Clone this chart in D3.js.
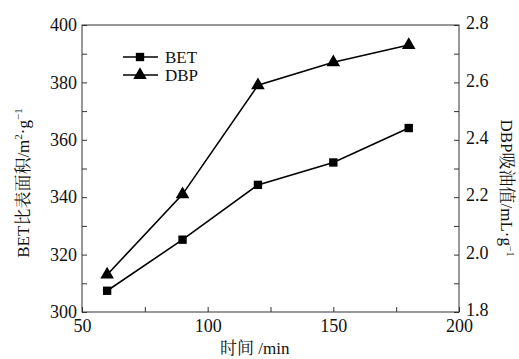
<!DOCTYPE html>
<html>
<head>
<meta charset="utf-8">
<script src="https://cdn.jsdelivr.net/npm/d3@7"></script>
<style>
  body { margin: 0; background: #fff; }
  svg text { font-family: "Liberation Serif", "Noto Serif CJK SC", "Noto Sans CJK SC", serif; fill: #111; }
</style>
</head>
<body>
<div id="chart"></div>
<script>
const times = [60, 90, 120, 150, 180];
const betValues = [307.4, 325.2, 344.3, 352.1, 364.1];
const dbpValues = [1.93, 2.21, 2.59, 2.67, 2.73];
const xTicks = [50, 100, 150, 200];
const leftTicks = [300, 320, 340, 360, 380, 400];
const rightTicks = [1.8, 2.0, 2.2, 2.4, 2.6, 2.8];

const width = 519;
const height = 359;
const margin = { top: 25, right: 60, bottom: 47, left: 82 };

const svg = d3.select('#chart')
  .append('svg')
  .attr('width', width)
  .attr('height', height);

const x = d3.scaleLinear().domain([50, 200]).range([margin.left, width - margin.right]);
const yLeft = d3.scaleLinear().domain([300, 400]).range([height - margin.bottom, margin.top]);
const yRight = d3.scaleLinear().domain([1.8, 2.8]).range([height - margin.bottom, margin.top]);

const tickLen = 5;
const serif = '"Liberation Serif", serif';

// frame
svg.append('rect')
  .attr('x', margin.left)
  .attr('y', margin.top)
  .attr('width', width - margin.left - margin.right)
  .attr('height', height - margin.top - margin.bottom)
  .attr('fill', 'none')
  .attr('stroke', '#333')
  .attr('stroke-width', 1);

// axes (ticks drawn inward)
const xAxis = d3.axisBottom(x)
  .tickValues(d3.range(50, 201, 25))
  .tickSizeInner(-tickLen).tickSizeOuter(0)
  .tickFormat((d) => (xTicks.includes(d) ? d : ''));
const gx = svg.append('g')
  .attr('transform', `translate(0,${height - margin.bottom})`)
  .call(xAxis);
gx.selectAll('text').attr('y', 7);

const leftAxis = d3.axisLeft(yLeft)
  .tickValues(d3.range(300, 401, 10))
  .tickSizeInner(-tickLen).tickSizeOuter(0)
  .tickFormat((d) => (leftTicks.includes(d) ? d : ''));
const gl = svg.append('g')
  .attr('transform', `translate(${margin.left},0)`)
  .call(leftAxis);
gl.selectAll('text').attr('x', -5);

const rightAxis = d3.axisRight(yRight)
  .tickValues(d3.range(18, 29, 1).map((d) => d / 10))
  .tickSizeInner(-tickLen).tickSizeOuter(0)
  .tickFormat((d) => (rightTicks.some((t) => Math.abs(t - d) < 1e-9) ? d3.format('.1f')(d) : ''));
const gr = svg.append('g')
  .attr('transform', `translate(${width - margin.right},0)`)
  .call(rightAxis);
gr.selectAll('text').attr('x', 7).attr('dy', '0.2em');

svg.selectAll('.domain').remove();
svg.selectAll('.tick line').attr('stroke', '#333');
svg.selectAll('.tick text')
  .style('font-family', serif)
  .style('font-size', '18px')
  .style('fill', '#111');

// lines
const betLine = d3.line().x((d, i) => x(times[i])).y((d) => yLeft(d));
const dbpLine = d3.line().x((d, i) => x(times[i])).y((d) => yRight(d));

svg.append('path')
  .datum(betValues)
  .attr('d', betLine)
  .attr('fill', 'none')
  .attr('stroke', '#000')
  .attr('stroke-width', 1.6);

svg.append('path')
  .datum(dbpValues)
  .attr('d', dbpLine)
  .attr('fill', 'none')
  .attr('stroke', '#000')
  .attr('stroke-width', 1.6);

const square = d3.symbol().type(d3.symbolSquare).size(70);
const triangle = d3.symbol().type(d3.symbolTriangle).size(80);

svg.selectAll('.bet-pt')
  .data(betValues)
  .enter()
  .append('path')
  .attr('class', 'bet-pt')
  .attr('d', square)
  .attr('transform', (d, i) => `translate(${x(times[i])},${yLeft(d)})`)
  .attr('fill', '#000');

svg.selectAll('.dbp-pt')
  .data(dbpValues)
  .enter()
  .append('path')
  .attr('class', 'dbp-pt')
  .attr('d', triangle)
  .attr('transform', (d, i) => `translate(${x(times[i])},${yRight(d)})`)
  .attr('fill', '#000');

// legend
const legend = [
  { label: 'BET', symbol: square, y: 57 },
  { label: 'DBP', symbol: triangle, y: 75 },
];
legend.forEach((item) => {
  const g = svg.append('g');
  g.append('line')
    .attr('x1', 123).attr('x2', 158)
    .attr('y1', item.y).attr('y2', item.y)
    .attr('stroke', '#000').attr('stroke-width', 1.6);
  g.append('path')
    .attr('d', item.symbol)
    .attr('transform', `translate(140,${item.y})`)
    .attr('fill', '#000');
  g.append('text')
    .attr('x', 165).attr('y', item.y + 6)
    .attr('font-size', 17)
    .text(item.label);
});

// axis titles
svg.append('text')
  .attr('transform', 'translate(29,183) rotate(-90)')
  .attr('text-anchor', 'middle')
  .attr('font-size', 17)
  .html('BET比表面积/m<tspan dy="-7" font-size="11">2</tspan><tspan dy="7">·g</tspan><tspan dy="-7" font-size="11">−1</tspan>');

svg.append('text')
  .attr('transform', 'translate(501,188) rotate(90)')
  .attr('text-anchor', 'middle')
  .attr('font-size', 17)
  .html('DBP吸油值/mL·g<tspan dy="-6" font-size="10">−1</tspan>');

svg.append('text')
  .attr('x', 220)
  .attr('y', 354)
  .attr('font-size', 17)
  .text('时间 /min');
</script>
</body>
</html>
